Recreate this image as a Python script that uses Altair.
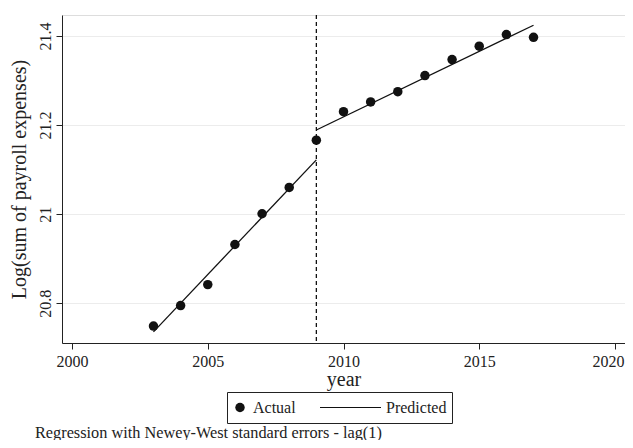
import altair as alt
import pandas as pd

years = [2003, 2004, 2005, 2006, 2007, 2008, 2009, 2010, 2011, 2012, 2013, 2014, 2015, 2016, 2017]
actual = [20.749, 20.795, 20.842, 20.932, 21.001, 21.060, 21.166, 21.230, 21.252, 21.275, 21.311, 21.347, 21.377, 21.403, 21.397]

pred_years = [2003, 2009, 2009, 2017]
pred_values = [20.736, 21.122, 21.189, 21.424]
pred_segment = ["pre", "pre", "post", "post"]

break_year = [2009]
x_ticks = [2000, 2005, 2010, 2015, 2020]
y_ticks = [20.8, 21.0, 21.2, 21.4]
legend_labels = ["Actual", "Predicted"]
note = "Regression with Newey-West standard errors - lag(1)"

FONT = "Liberation Serif"
INK = "#111111"
LINE_SYMBOL = "M-1,-0.02H1V0.02H-1Z"

df_act = pd.DataFrame({"year": years, "value": actual, "series": "Actual"})
df_pred = pd.DataFrame({"year": pred_years, "value": pred_values, "segment": pred_segment})
df_break = pd.DataFrame({"year": break_year})

xscale = alt.Scale(domain=[1999.63, 2020.37], nice=False, zero=False)
yscale = alt.Scale(domain=[20.711, 21.447], nice=False, zero=False)

xaxis = alt.Axis(
    values=x_ticks, format="d", title="year", grid=False,
    labelFont=FONT, labelFontSize=16, labelColor="#222222",
    labelBaseline="alphabetic", labelPadding=17.5, tickSize=6,
    labelOffset=alt.ExprRef("datum.value == 2020 ? -7 : 0"),
    tickColor="#222222", domainColor="#222222", labelFlush=False,
    titleFont=FONT, titleFontSize=20, titleFontWeight="normal", titleColor="#222222",
    titleBaseline="alphabetic", titleY=42, titleX=281.5, titleAlign="center",
)
yaxis = alt.Axis(
    values=y_ticks, format="~g", title="Log(sum of payroll expenses)", grid=True,
    gridColor="#ececec", gridWidth=1,
    labelFont=FONT, labelFontSize=16, labelColor="#222222", labelAngle=-90,
    labelAlign="center", labelBaseline="alphabetic", labelPadding=6, tickSize=6,
    tickColor="#222222", domainColor="#222222", labelFlush=False,
    titleFont=FONT, titleFontSize=20, titleFontWeight="normal", titleColor="#222222",
    titleAngle=-90, titleBaseline="alphabetic", titleAlign="center",
    titleX=-36.5, titleY=164,
)

legend = alt.Legend(
    title=None, orient="none", direction="horizontal",
    legendX=165, legendY=377, padding=5, clipHeight=21,
    strokeColor="#222222", fillColor="white",
    labelFont=FONT, labelFontSize=16, labelColor="#222222",
    labelOffset=5, columnPadding=24,
    labelExpr="datum.label == 'Predicted' ? 'Predicted\u00a0\u00a0' : datum.label",
    symbolFillColor=INK, symbolStrokeColor=INK,
    symbolStrokeWidth=0, symbolOpacity=1,
)

points = alt.Chart(df_act).mark_point(
    filled=True, color=INK, opacity=1
).encode(
    x=alt.X("year:Q", scale=xscale, axis=xaxis),
    y=alt.Y("value:Q", scale=yscale, axis=yaxis),
    shape=alt.Shape("series:N", scale=alt.Scale(domain=legend_labels, range=["circle", LINE_SYMBOL]),
                    legend=legend),
    size=alt.Size("series:N", scale=alt.Scale(type="ordinal", domain=legend_labels, range=[90, 3721]),
                  legend=legend),
)

lines = alt.Chart(df_pred).mark_line(color=INK, strokeWidth=1.3).encode(
    x=alt.X("year:Q", scale=xscale),
    y=alt.Y("value:Q", scale=yscale),
    detail="segment:N",
)

vline = alt.Chart(df_break).mark_rule(color=INK, strokeWidth=1.3, strokeDash=[4, 3]).encode(
    x=alt.X("year:Q", scale=xscale),
)

chart = alt.layer(vline, lines, points).properties(
    width=563, height=328,
    autosize=alt.AutoSizeParams(type="none"),
    padding={"left": 54, "top": 7, "right": 0, "bottom": 97},
    title=alt.TitleParams(
        text=note, orient="bottom", anchor="start", frame="group",
        font=FONT, fontSize=16.3, fontWeight="normal", color="#222222",
        baseline="alphabetic", dx=-27, offset=14,
    ),
).configure_view(stroke=None).configure(background="white")

chart.save("out.html", embed_options={"renderer": "svg", "actions": False})
